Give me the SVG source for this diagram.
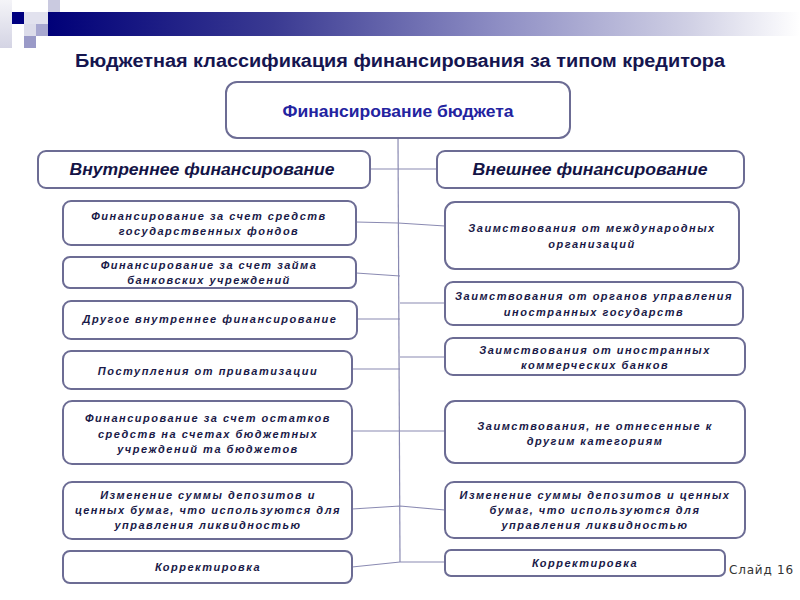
<svg xmlns="http://www.w3.org/2000/svg" width="800" height="600" viewBox="0 0 800 600">
<defs>
<linearGradient id="bar" x1="0" y1="0" x2="1" y2="0">
<stop offset="0" stop-color="#000078"/>
<stop offset="0.3" stop-color="#3a3a92"/>
<stop offset="0.6" stop-color="#8e8ec4"/>
<stop offset="0.85" stop-color="#cfcfe4"/>
<stop offset="1" stop-color="#ffffff"/>
</linearGradient>
<linearGradient id="strip" x1="0" y1="0" x2="0" y2="1">
<stop offset="0" stop-color="#f4f4f8"/>
<stop offset="1" stop-color="#d4d4e4"/>
</linearGradient>
</defs>
<style>
.box{fill:#ffffff;stroke:#6c6c94;stroke-width:2}
.con{fill:none;stroke:#8a8ab2;stroke-width:1.2}
.t3{font-family:"Liberation Sans",Arial,sans-serif;font-size:11px;font-weight:bold;font-style:italic;fill:#1a1a48;text-anchor:middle;letter-spacing:1.5px}
.t2{font-family:"Liberation Sans",Arial,sans-serif;font-size:16px;font-weight:bold;font-style:italic;fill:#141446;text-anchor:middle}
</style>
<rect width="800" height="600" fill="#ffffff"/>
<g id="decoration">
<rect x="0" y="0" width="12" height="48" fill="url(#strip)"/>
<rect x="48" y="12" width="752" height="24" fill="url(#bar)"/>
<rect x="12" y="12" width="12" height="12" fill="#000080"/>
<rect x="24" y="12" width="24" height="12" fill="#e2e2ee"/>
<rect x="48" y="0" width="12" height="12" fill="#cacae0"/>
<rect x="24" y="24" width="12" height="12" fill="#dcdcea"/>
<rect x="36" y="24" width="12" height="12" fill="#a8a8d0"/>
<rect x="24" y="36" width="12" height="12" fill="#9a9ac8"/>
</g>
<text id="title" x="400" y="67" font-family="Liberation Sans,Arial,sans-serif" font-size="18" font-weight="bold" fill="#15154f" text-anchor="middle" textLength="650" lengthAdjust="spacingAndGlyphs">Бюджетная классификация финансирования за типом кредитора</text>
<g id="connectors">
<path class="con" d="M398,138 L400,562"/>
<path class="con" d="M370,169 H437"/>
<path class="con" d="M356,222 L398,223 L445,226"/>
<path class="con" d="M356,273 L400,276"/>
<path class="con" d="M400,303 H445"/>
<path class="con" d="M357,319 H400"/>
<path class="con" d="M400,357 H445"/>
<path class="con" d="M352,369 H400"/>
<path class="con" d="M352,431 H445"/>
<path class="con" d="M352,509 L400,506 L445,510"/>
<path class="con" d="M352,567 L400,562 L445,562"/>
</g>
<g id="root">
<rect class="box" x="226" y="82" width="344" height="56" rx="11"/>
<text x="398" y="117" font-family="Liberation Sans,Arial,sans-serif" font-size="16" font-weight="bold" fill="#2323a0" text-anchor="middle" textLength="231" lengthAdjust="spacingAndGlyphs">Финансирование бюджета</text>
</g>
<g id="internal">
<rect class="box" x="38" y="151" width="332" height="37" rx="8"/>
<text class="t2" x="202" y="175" textLength="265" lengthAdjust="spacingAndGlyphs">Внутреннее финансирование</text>
</g>
<g id="external">
<rect class="box" x="437" y="151" width="307" height="37" rx="8"/>
<text class="t2" x="590" y="175" textLength="235" lengthAdjust="spacingAndGlyphs">Внешнее финансирование</text>
</g>
<g id="l1">
<rect class="box" x="63" y="201" width="293" height="44" rx="8"/>
<text class="t3" x="209" y="220">Финансирование за счет средств</text>
<text class="t3" x="209" y="235">государственных фондов</text>
</g>
<g id="l2">
<rect class="box" x="63" y="257" width="293" height="31" rx="7"/>
<text class="t3" x="209" y="269">Финансирование за счет займа</text>
<text class="t3" x="209" y="284">банковских учреждений</text>
</g>
<g id="l3">
<rect class="box" x="63" y="301" width="294" height="38" rx="8"/>
<text class="t3" x="210" y="323">Другое внутреннее финансирование</text>
</g>
<g id="l4">
<rect class="box" x="63" y="351" width="289" height="38" rx="8"/>
<text class="t3" x="208" y="375">Поступления от приватизации</text>
</g>
<g id="l5">
<rect class="box" x="63" y="401" width="289" height="63" rx="9"/>
<text class="t3" x="208" y="422">Финансирование за счет остатков</text>
<text class="t3" x="208" y="438">средств на счетах бюджетных</text>
<text class="t3" x="208" y="453">учреждений та бюджетов</text>
</g>
<g id="l6">
<rect class="box" x="63" y="482" width="289" height="57" rx="9"/>
<text class="t3" x="208" y="499">Изменение суммы депозитов и</text>
<text class="t3" x="208" y="514">ценных бумаг, что используются для</text>
<text class="t3" x="208" y="529">управления ликвидностью</text>
</g>
<g id="l7">
<rect class="box" x="63" y="551" width="289" height="32" rx="7"/>
<text class="t3" x="208" y="571">Корректировка</text>
</g>
<g id="r1">
<rect class="box" x="445" y="202" width="294" height="67" rx="10"/>
<text class="t3" x="592" y="232">Заимствования от международных</text>
<text class="t3" x="592" y="248">организаций</text>
</g>
<g id="r2">
<rect class="box" x="445" y="282" width="298" height="43" rx="8"/>
<text class="t3" x="594" y="300">Заимствования от органов управления</text>
<text class="t3" x="594" y="316">иностранных государств</text>
</g>
<g id="r3">
<rect class="box" x="445" y="338" width="300" height="37" rx="8"/>
<text class="t3" x="595" y="354">Заимствования от иностранных</text>
<text class="t3" x="595" y="369">коммерческих банков</text>
</g>
<g id="r4">
<rect class="box" x="445" y="401" width="300" height="62" rx="10"/>
<text class="t3" x="595" y="430">Заимствования, не отнесенные к</text>
<text class="t3" x="595" y="445">другим категориям</text>
</g>
<g id="r5">
<rect class="box" x="445" y="482" width="300" height="56" rx="9"/>
<text class="t3" x="595" y="499">Изменение суммы депозитов и ценных</text>
<text class="t3" x="595" y="514">бумаг, что используются для</text>
<text class="t3" x="595" y="529">управления ликвидностью</text>
</g>
<g id="r6">
<rect class="box" x="445" y="550" width="280" height="26" rx="6"/>
<text class="t3" x="585" y="567">Корректировка</text>
</g>
<text id="slide" x="729" y="574" font-family="DejaVu Sans,sans-serif" font-size="12" fill="#333333" letter-spacing="0.8">Слайд 16</text>
</svg>
